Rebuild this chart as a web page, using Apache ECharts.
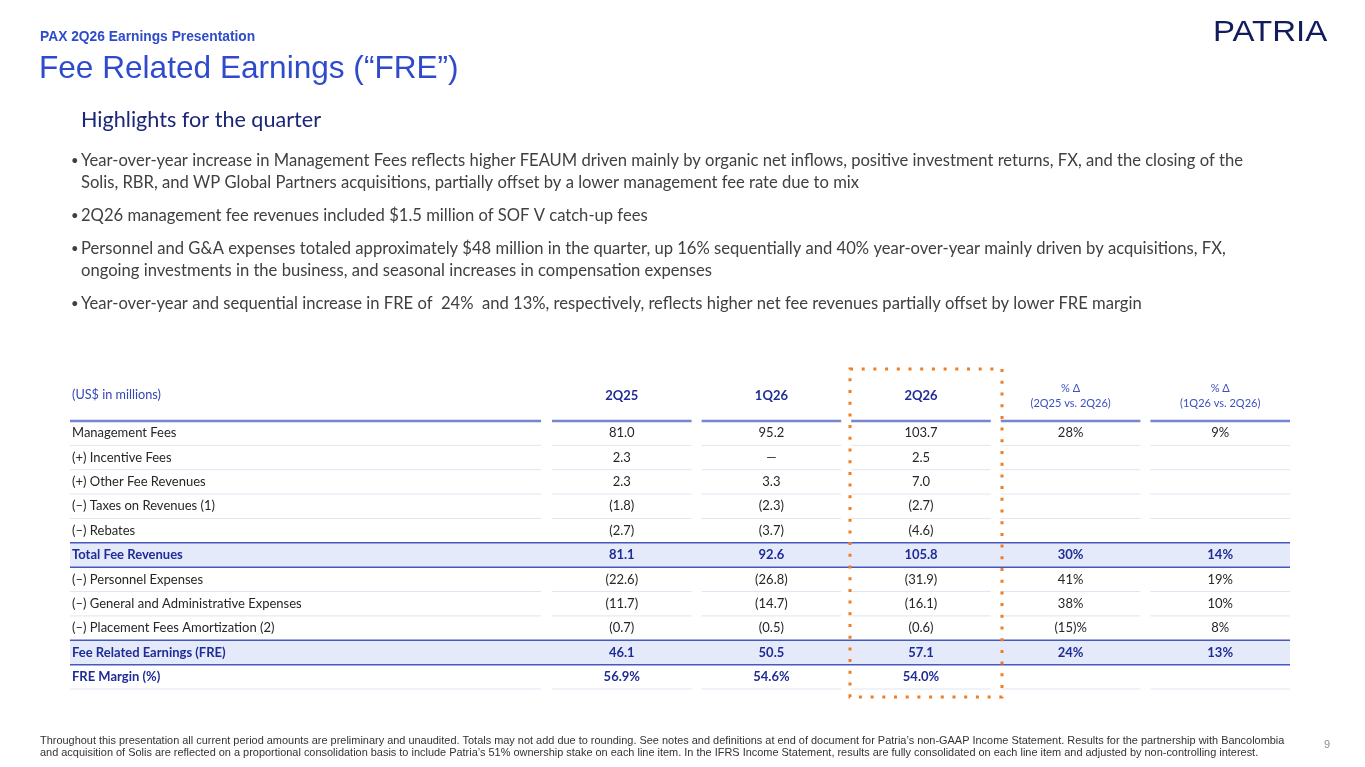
<!DOCTYPE html>
<html>
<head>
<meta charset="utf-8">
<title>Fee Related Earnings</title>
<script src="https://cdn.jsdelivr.net/npm/echarts@6.0.0/dist/echarts.min.js"></script>
<style>
  html, body { margin: 0; padding: 0; background: #fff; }
  #chart { width: 1365px; height: 767px; }
</style>
</head>
<body>
<div id="chart"></div>
<script>
// table rows (top to bottom)
const rowLabels = [
    'Management Fees',
    '(+) Incentive Fees',
    '(+) Other Fee Revenues',
    '(–) Taxes on Revenues (1)',
    '(–) Rebates',
    'Total Fee Revenues',
    '(–) Personnel Expenses',
    '(–) General and Administrative Expenses',
    '(–) Placement Fees Amortization (2)',
    'Fee Related Earnings (FRE)',
    'FRE Margin (%)'
];
const colHeaders = ['2Q25', '1Q26', '2Q26', '% Δ\n(2Q25 vs. 2Q26)', '% Δ\n(1Q26 vs. 2Q26)'];

// US$ millions, negatives shown in brackets, 0 = "—", last row is margin %
const q2_25 = [81.0, 2.3, 2.3, -1.8, -2.7, 81.1, -22.6, -11.7, -0.7, 46.1, 56.9];
const q1_26 = [95.2, 0, 3.3, -2.3, -3.7, 92.6, -26.8, -14.7, -0.5, 50.5, 54.6];
const q2_26 = [103.7, 2.5, 7.0, -2.7, -4.6, 105.8, -31.9, -16.1, -0.6, 57.1, 54.0];
// % change columns, null = blank
const chgYoY = [28, null, null, null, null, 30, 41, 38, -15, 24, null];
const chgQoQ = [9, null, null, null, null, 14, 19, 10, 8, 13, null];

const boldRows = [5, 9, 10];
const highlightRows = [5, 9];
const marginRow = 10;
const focusCol = 2;

const headTexts = {
    kicker: 'PAX 2Q26 Earnings Presentation',
    title: 'Fee Related Earnings (“FRE”)',
    section: 'Highlights for the quarter',
    unit: '(US$ in millions)',
    logo: 'PATRIA',
    page: '9'
};
// bullets, already wrapped as on the slide
const bullets = [
    ['Year-over-year increase in Management Fees reflects higher FEAUM driven mainly by organic net inflows, positive investment returns, FX, and the closing of the',
     'Solis, RBR, and WP Global Partners acquisitions, partially offset by a lower management fee rate due to mix'],
    ['2Q26 management fee revenues included $1.5 million of SOF V catch-up fees'],
    ['Personnel and G&A expenses totaled approximately $48 million in the quarter, up 16% sequentially and 40% year-over-year mainly driven by acquisitions, FX,',
     'ongoing investments in the business, and seasonal increases in compensation expenses'],
    ['Year-over-year and sequential increase in FRE of  24%  and 13%, respectively, reflects higher net fee revenues partially offset by lower FRE margin']
];
const footnote = [
    'Throughout this presentation all current period amounts are preliminary and unaudited. Totals may not add due to rounding. See notes and definitions at end of document for Patria’s non-GAAP Income Statement. Results for the partnership with Bancolombia',
    'and acquisition of Solis are reflected on a proportional consolidation basis to include Patria’s 51% ownership stake on each line item. In the IFRS Income Statement, results are fully consolidated on each line item and adjusted by non-controlling interest.'
];

const FONT = 'Lato, "Noto Sans", sans-serif';
const ARIAL = '"Liberation Sans", Arial, sans-serif';
const BLUE = '#2f4bcc';
const NAVY = '#1f2c96';
const INK = '#262626';

function fmtAmount(v, row) {
    if (v === null) return '';
    if (row === marginRow) return v.toFixed(1) + '%';
    if (v === 0) return '—';
    return v < 0 ? '(' + Math.abs(v).toFixed(1) + ')' : v.toFixed(1);
}
function fmtPct(v) {
    if (v === null) return '';
    return v < 0 ? '(' + Math.abs(v) + ')%' : v + '%';
}

// flatten table into cells
const cellData = [];
const cellText = [];
[q2_25, q1_26, q2_26].forEach(function (arr, c) {
    arr.forEach(function (v, r) {
        cellData.push([c, r]);
        cellText.push(fmtAmount(v, r));
    });
});
[chgYoY, chgQoQ].forEach(function (arr, i) {
    arr.forEach(function (v, r) {
        if (v === null) return;
        cellData.push([3 + i, r]);
        cellText.push(fmtPct(v));
    });
});

// slide texts
const graphics = [
    { type: 'text', x: 40, y: 37, style: { text: headTexts.kicker, fill: BLUE, fontFamily: ARIAL, fontWeight: 'bold', fontSize: 13.8, align: 'left', verticalAlign: 'middle' } },
    { type: 'text', x: 39, y: 69, style: { text: headTexts.title, fill: BLUE, fontFamily: ARIAL, fontSize: 31.6, align: 'left', verticalAlign: 'middle' } },
    { type: 'text', x: 81, y: 120, style: { text: headTexts.section, fill: '#1c2678', fontFamily: FONT, fontSize: 21.6, align: 'left', verticalAlign: 'middle' } },
    { type: 'text', x: 1213, y: 33, scaleX: 1.1, style: { text: headTexts.logo, fill: '#121c5c', fontFamily: ARIAL, fontSize: 30, align: 'left', verticalAlign: 'middle' } },
    { type: 'text', x: 72, y: 395, style: { text: headTexts.unit, fill: '#3445b5', fontFamily: FONT, fontSize: 12.7, align: 'left', verticalAlign: 'middle' } },
    { type: 'text', x: 1324, y: 745, style: { text: headTexts.page, fill: '#8c8c8c', fontFamily: ARIAL, fontSize: 11, align: 'left', verticalAlign: 'middle' } }
];
let by = 161;
bullets.forEach(function (lines) {
    graphics.push({ type: 'text', x: 71, y: by, style: { text: '•', fill: '#404040', fontFamily: FONT, fontSize: 13, align: 'left', verticalAlign: 'middle' } });
    lines.forEach(function (line, i) {
        graphics.push({ type: 'text', x: 81, y: by + i * 22, style: { text: line, fill: '#404040', fontFamily: FONT, fontSize: 16.6, align: 'left', verticalAlign: 'middle' } });
    });
    by += (lines.length - 1) * 22 + 33;
});
footnote.forEach(function (line, i) {
    graphics.push({ type: 'text', x: 40, y: 741 + i * 12, style: { text: line, fill: '#333', fontFamily: ARIAL, fontSize: 10.95, align: 'left', verticalAlign: 'middle' } });
});

function richLabel(style, value) {
    return value.split('\n').map(function (l) { return '{' + style + '|' + l + '}'; }).join('\n');
}

// row backgrounds and rules
function renderRow(params, api) {
    const r = api.value(1);
    const cs = params.coordSys;
    const h = api.size([0, 1])[1];
    const bw = api.size([1, 0])[0];
    const yc = api.coord([0, r])[1];
    const yTop = yc - h / 2, yBot = yc + h / 2;
    const labelL = cs.x - 477, labelR = cs.x - 6, right = cs.x + cs.width - 5;
    const segs = [[labelL, labelR]];
    colHeaders.forEach(function (_, c) {
        const cx = api.coord([c, r])[0];
        segs.push([cx - bw / 2 + 5, cx + bw / 2 - 5]);
    });
    const kids = [];
    function rule(x1, x2, y, color, w) {
        kids.push({ type: 'line', shape: { x1: x1, y1: y, x2: x2, y2: y }, style: { stroke: color, lineWidth: w } });
    }
    if (r === 0) {
        segs.forEach(function (s) { rule(s[0], s[1], yTop, '#7785cf', 2.5); });
    }
    if (highlightRows.indexOf(r) >= 0) {
        kids.push({ type: 'rect', shape: { x: labelL, y: yTop, width: right - labelL, height: h }, style: { fill: '#e5eafb' } });
        rule(labelL, right, yTop, '#4657c0', 1.5);
        rule(labelL, right, yBot, '#4657c0', 1.5);
    } else if (highlightRows.indexOf(r + 1) < 0) {
        segs.forEach(function (s) { rule(s[0], s[1], yBot, '#e0e5f2', 1); });
    }
    return { type: 'group', children: kids };
}

function renderCell(params, api) {
    const row = api.value(1);
    const p = api.coord([api.value(0), row]);
    const bold = boldRows.indexOf(row) >= 0;
    return {
        type: 'text', x: p[0], y: p[1],
        style: {
            text: cellText[params.dataIndex], fill: bold ? NAVY : INK,
            fontFamily: FONT, fontSize: 13, fontWeight: bold ? 'bold' : 'normal',
            align: 'center', verticalAlign: 'middle'
        }
    };
}

// dotted box round the current quarter
function renderBox(params, api) {
    const cs = params.coordSys;
    const cx = api.coord([api.value(0), 0])[0];
    return {
        type: 'rect',
        shape: { x: cx - 71, y: cs.y - 52, width: 152, height: cs.height + 60 },
        style: { fill: 'none', stroke: '#ef7d22', lineWidth: 3, lineDash: [3, 8.7] }
    };
}

const option = {
    backgroundColor: '#fff',
    animation: false,
    graphic: graphics,
    grid: { left: 547, right: 70, top: 421, height: 268 },
    xAxis: {
        type: 'category',
        position: 'top',
        data: colHeaders,
        axisLine: { show: false },
        axisTick: { show: false },
        splitLine: { show: false },
        axisLabel: {
            interval: 0,
            margin: 25,
            verticalAlign: 'middle',
            formatter: function (value, idx) {
                return richLabel(idx < 3 ? 'q' : 's', value);
            },
            rich: {
                q: { fontFamily: FONT, fontSize: 13, fontWeight: 'bold', color: NAVY },
                s: { fontFamily: FONT, fontSize: 11, color: '#3d50c0', lineHeight: 15 }
            }
        }
    },
    yAxis: {
        type: 'category',
        inverse: true,
        data: rowLabels,
        axisLine: { show: false },
        axisTick: { show: false },
        splitLine: { show: false },
        axisLabel: {
            interval: 0,
            margin: 475,
            align: 'left',
            formatter: function (value, idx) {
                return boldRows.indexOf(idx) >= 0 ? '{b|' + value + '}' : '{n|' + value + '}';
            },
            rich: {
                b: { fontFamily: FONT, fontSize: 13, fontWeight: 'bold', color: NAVY },
                n: { fontFamily: FONT, fontSize: 13, color: INK }
            }
        }
    },
    series: [
        {
            name: 'rows', type: 'custom', z: -1, silent: true,
            renderItem: renderRow,
            data: rowLabels.map(function (_, i) { return [0, i]; })
        },
        {
            name: 'box', type: 'custom', silent: true,
            renderItem: renderBox,
            data: [[focusCol, 0]]
        },
        {
            name: 'cells', type: 'custom', silent: true,
            renderItem: renderCell,
            data: cellData
        }
    ]
};

const chart = echarts.init(document.getElementById('chart'));
chart.setOption(option);
window.addEventListener('resize', function () {
    chart.resize();
});
</script>
</body>
</html>
